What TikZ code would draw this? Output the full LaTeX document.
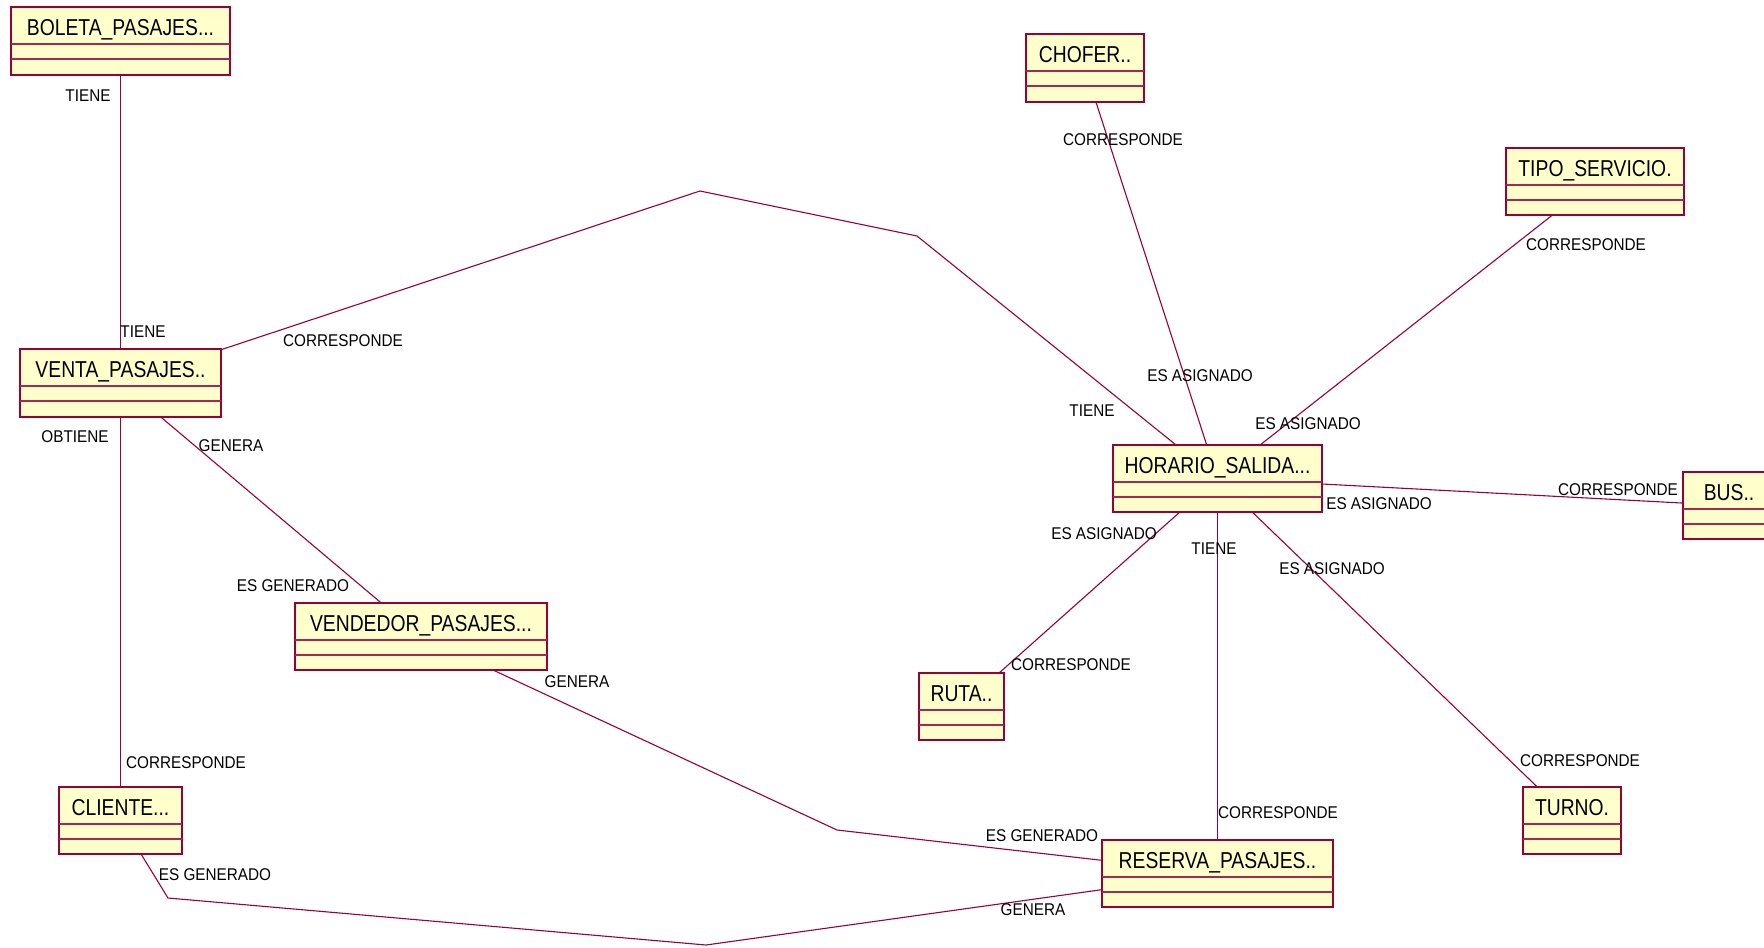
\documentclass[tikz,border=0pt]{standalone}
\usepackage{fontspec}
\setmainfont{Liberation Sans}
\newfontfamily\titlefont[FakeStretch=0.84]{Liberation Sans}
\newfontfamily\labelfont[FakeStretch=0.9]{Liberation Sans}
\usetikzlibrary{calc}
\definecolor{rosered}{RGB}{153,0,51}
\definecolor{classfill}{RGB}{255,255,204}

% class box: name, left, top, right, bottom (pixel units), title
\newcommand\umlclass[6]{%
  \pgfmathsetmacro\clw{(#4-#2)*0.5}%
  \pgfmathsetmacro\clh{(#5-#3)*0.5}%
  \node[classbox, anchor=north west, minimum width=\clw pt, minimum height=\clh pt] (#1) at (#2,#3) {};
  \draw[divider] ($(#1.north west)+(0,37)$) -- ($(#1.north east)+(0,37)$);
  \draw[divider] ($(#1.north west)+(0,52)$) -- ($(#1.north east)+(0,52)$);
  \node[classname] (#1-title) at ($(#1.north)+(0,28.5)$) {#6};
}

\begin{document}
\begin{tikzpicture}[x=0.5pt,y=-0.5pt,
  classbox/.style={draw=rosered, fill=classfill, line width=0.75pt, inner sep=0pt, outer sep=0pt, rectangle},
  divider/.style={draw=rosered!85, line width=0.6pt},
  classname/.style={font=\titlefont\fontsize{11.5}{13}\selectfont, inner sep=0pt, anchor=base},
  assoc/.style={draw=rosered, line width=0.55pt},
  role/.style={font=\labelfont\fontsize{8.5}{10}\selectfont, inner sep=0pt, text=black}]
\useasboundingbox (0,0) rectangle (1764,947);

% classes
\umlclass{boleta}{11}{7}{230}{75}{BOLETA\_PASAJES...}
\umlclass{chofer}{1026}{34}{1144}{102}{CHOFER..}
\umlclass{tipo}{1506}{148}{1684}{215}{TIPO\_SERVICIO.}
\umlclass{venta}{20}{349}{221}{417}{VENTA\_PASAJES..}
\umlclass{horario}{1113}{445}{1322}{512}{HORARIO\_SALIDA...}
\umlclass{bus}{1683}{472}{1775}{539}{BUS..}
\umlclass{vendedor}{295}{603}{547}{670}{VENDEDOR\_PASAJES...}
\umlclass{ruta}{919}{673}{1004}{740}{RUTA..}
\umlclass{cliente}{59}{787}{182}{854}{CLIENTE...}
\umlclass{turno}{1523}{787}{1621}{854}{TURNO.}
\umlclass{reserva}{1102}{840}{1333}{907}{RESERVA\_PASAJES..}

% bend points of the routed associations
\coordinate (vh1) at (700,191);
\coordinate (vh2) at (917,236);
\coordinate (vr1) at (837,830);
\coordinate (cr1) at (168,898);
\coordinate (cr2) at (706,945);

% associations
\draw[assoc] (boleta) -- (venta);
\draw[assoc] (venta) -- (vh1) -- (vh2) -- (horario);
\draw[assoc] (venta) -- (vendedor);
\draw[assoc] (venta) -- (cliente);
\draw[assoc] (vendedor) -- (vr1) -- (reserva);
\draw[assoc] (cliente) -- (cr1) -- (cr2) -- (reserva);
\draw[assoc] (chofer) -- (horario);
\draw[assoc] (tipo) -- (horario);
\draw[assoc] (horario) -- (bus);
\draw[assoc] (horario) -- (ruta);
\draw[assoc] (horario) -- (reserva);
\draw[assoc] (horario) -- (turno);

% role names
\node[role] (r1) at (88,96) {TIENE};
\node[role] (r2) at (143,332) {TIENE};
\node[role] (r3) at (343,341) {CORRESPONDE};
\node[role] (r4) at (1092,411) {TIENE};
\node[role] (r5) at (75,437) {OBTIENE};
\node[role] (r6) at (231,446) {GENERA};
\node[role] (r7) at (293,586) {ES GENERADO};
\node[role] (r8) at (186,763) {CORRESPONDE};
\node[role] (r9) at (577,682) {GENERA};
\node[role] (r10) at (1042,836) {ES GENERADO};
\node[role] (r11) at (215,875) {ES GENERADO};
\node[role] (r12) at (1033,910) {GENERA};
\node[role] (r13) at (1123,140) {CORRESPONDE};
\node[role] (r14) at (1200,376) {ES ASIGNADO};
\node[role] (r15) at (1586,245) {CORRESPONDE};
\node[role] (r16) at (1308,424) {ES ASIGNADO};
\node[role] (r17) at (1379,504) {ES ASIGNADO};
\node[role] (r18) at (1618,490) {CORRESPONDE};
\node[role] (r19) at (1104,534) {ES ASIGNADO};
\node[role] (r20) at (1071,665) {CORRESPONDE};
\node[role] (r21) at (1214,549) {TIENE};
\node[role] (r22) at (1278,813) {CORRESPONDE};
\node[role] (r23) at (1332,569) {ES ASIGNADO};
\node[role] (r24) at (1580,761) {CORRESPONDE};
\end{tikzpicture}
\end{document}
